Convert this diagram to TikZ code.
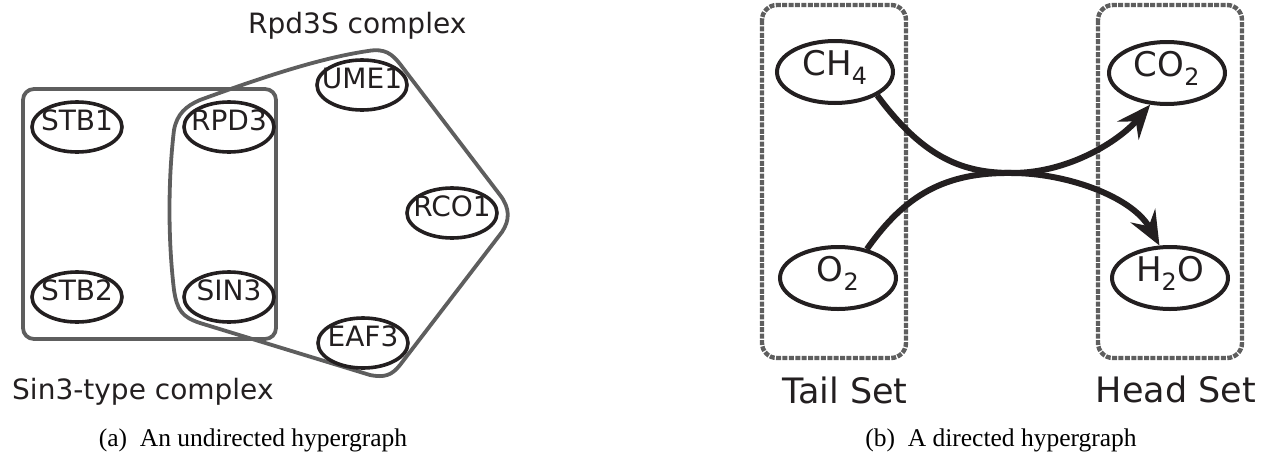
\documentclass[tikz,border=0pt]{standalone}
\usepackage{fontspec}
\setmainfont{Liberation Serif}
\newfontfamily\dvsans{DejaVu Sans}
\usetikzlibrary{shapes.geometric,arrows.meta}
\definecolor{ink}{HTML}{231F20}
\definecolor{hedge}{HTML}{5E5E5E}
\tikzset{
  vert/.style={ellipse, draw=ink, line width=3.6pt, inner xsep=-12pt, inner ysep=0pt,
    minimum width=90pt, minimum height=50pt, text=ink,
    font=\dvsans\fontsize{28}{30}\selectfont, text height=0.73em, text depth=0pt},
  bigvert/.style={vert, line width=4pt, minimum width=116pt, minimum height=62pt,
    font=\dvsans\fontsize{34}{36}\selectfont},
  hyperedge/.style={draw=hedge, line width=3.8pt},
  setbox/.style={draw=hedge, line width=4.4pt, rounded corners=15pt,
    dash pattern=on 5pt off 1.4pt},
  flow/.style={draw=ink, line width=6pt},
  flowtip/.style={flow, -{Stealth[length=34pt,width=28pt,inset=12pt]}},
  lbl/.style={text=ink, font=\dvsans\fontsize{28}{30}\selectfont, inner sep=0pt},
  setlbl/.style={text=ink, font=\dvsans\fontsize{35}{38}\selectfont, inner sep=0pt},
  capt/.style={text=black, font=\fontsize{25.5}{28}\selectfont, inner sep=0pt}
}
\begin{document}
\begin{tikzpicture}[x=1pt, y=-1pt]
\useasboundingbox (0,0) rectangle (1270,453);

% ---- (a) undirected hypergraph ----
\draw[hyperedge, rounded corners=11pt] (23,89) rectangle (276,339);
\draw[hyperedge]
  (200,100) .. controls (260,78) and (320,58) .. (368,51)
  .. controls (385,48) and (392,54) .. (400,64)
  -- (500,195) .. controls (510,208) and (510,220) .. (502,232)
  -- (400,365) .. controls (392,375) and (385,378) .. (370,375)
  -- (200,323) .. controls (182,317) and (177,310) .. (174,290)
  .. controls (168,240) and (168,180) .. (174,130)
  .. controls (177,114) and (186,106) .. (200,100) -- cycle;

\node[vert] (stb1) at (77,127) {STB1};
\node[vert] (stb2) at (77,297) {STB2};
\node[vert] (rpd3) at (229,127) {RPD3};
\node[vert] (sin3) at (229,297) {SIN3};
\node[vert] (ume1) at (362,85) {UME1};
\node[vert] (rco1) at (452,213) {RCO1};
\node[vert] (eaf3) at (363,343) {EAF3};

\node[lbl, anchor=base west] (rpdlbl) at (248,33) {Rpd3S complex};
\node[lbl, anchor=base west] (sinlbl) at (12,399) {Sin3-type complex};
\node[capt, anchor=base] (capa) at (253,446) {(a)\hspace{0.5em}An undirected hypergraph};

% ---- (b) directed hypergraph ----
\draw[setbox] (762,5) rectangle (906,358);
\draw[setbox] (1098,5) rectangle (1242,358);

\node[bigvert] (ch4) at (835,72) {CH\textsubscript{4}};
\node[bigvert] (o2) at (838,278) {O\textsubscript{2}};
\node[bigvert] (co2) at (1167,73) {CO\textsubscript{2}};
\node[bigvert] (h2o) at (1170,278) {H\textsubscript{2}O};

\coordinate (hub) at (1012,173);
\draw[flow] (ch4.-29) .. controls (925,160) and (965,173) .. (hub);
\draw[flow] (o2.45) .. controls (905,195) and (945,172) .. (hub);
\draw[flowtip] (hub) .. controls (1070,173) and (1120,140) .. (co2.-118);
\draw[flowtip] (hub) .. controls (1065,173) and (1132,196) .. (h2o.108);

\node[setlbl, anchor=base] (tail) at (845,403) {Tail Set};
\node[setlbl, anchor=base] (head) at (1176,402) {Head Set};
\node[capt, anchor=base] (capb) at (1001,446) {(b)\hspace{0.5em}A directed hypergraph};
\end{tikzpicture}
\end{document}
